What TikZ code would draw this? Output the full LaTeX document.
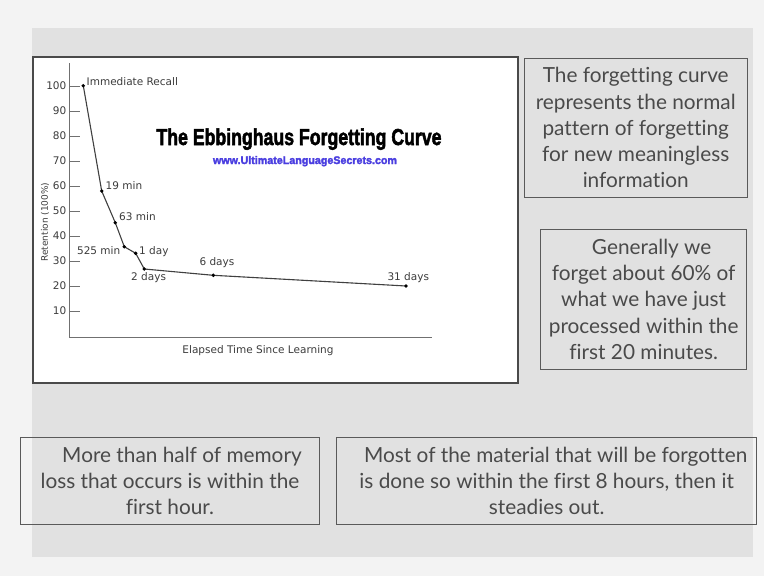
\documentclass[tikz,border=0pt]{standalone}
\usepackage{fontspec}
\setmainfont{Lato}
\newfontfamily\chartfont{DejaVu Sans}
\newfontfamily\titlefont{Liberation Sans}[BoldFeatures={FakeBold=2.5}]
\newfontfamily\gillfont{Lato}[Ligatures=NoCommon]
\definecolor{outerbg}{HTML}{F3F3F3}
\definecolor{panelbg}{HTML}{E1E1E1}
\definecolor{boxline}{HTML}{5A5A5A}
\definecolor{boxtext}{HTML}{4A4A4A}
\definecolor{chartframe}{HTML}{4A4A4A}
\definecolor{axisgray}{HTML}{707070}
\definecolor{charttext}{HTML}{3C3C3C}
\definecolor{urlblue}{HTML}{4A3EE0}
\begin{document}
\begin{tikzpicture}[x=1pt,y=-1pt,
  tbox/.style={draw=boxline, line width=0.9pt, align=center, inner sep=0pt,
    text=boxtext, font=\gillfont\fontsize{20.8}{26.3}\selectfont},
  clabel/.style={inner sep=0pt, text=charttext, font=\chartfont\fontsize{10.5}{12}\selectfont},
  ticklab/.style={inner sep=0pt, anchor=east, text=charttext, font=\chartfont\fontsize{10.5}{12}\selectfont},
  dotmark/.style={fill=black},
]
\useasboundingbox (0,0) rectangle (764,576);
\fill[outerbg] (0,0) rectangle (764,576);
\fill[panelbg] (32,28) rectangle (753,557);

% chart image
\draw[chartframe, line width=2.6pt, fill=white] (33,57) rectangle (518,383);

% axes
\coordinate (ytop) at (69.5,63);
\coordinate (orig) at (69.5,337);
\coordinate (xend) at (432,337);
\draw[axisgray, line width=0.9pt] (ytop) -- (orig) -- (xend);
\foreach \v in {10,20,...,100} {
  \draw[axisgray, line width=0.9pt] (69.5,{336-2.5*\v}) -- (80,{336-2.5*\v});
  \node[ticklab] at (66.5,{336-2.5*\v}) {\v};
}

% title
\node[inner sep=0pt, anchor=base] (title) at (299,145) {\resizebox{285pt}{16.7pt}{\titlefont\bfseries The Ebbinghaus Forgetting Curve}};
\node[inner sep=0pt, anchor=base, text=urlblue] (url) at (305,164) {\resizebox{184pt}{8pt}{\titlefont\bfseries www.UltimateLanguageSecrets.com}};

% data
\coordinate (p1) at (83.3,85.7);
\coordinate (p2) at (101.7,191);
\coordinate (p3) at (115.3,222.7);
\coordinate (p4) at (124.3,246.7);
\coordinate (p5) at (135.7,253.3);
\coordinate (p6) at (144.3,269);
\coordinate (p7) at (213.3,275.3);
\coordinate (p8) at (406,286);
\draw[black!75, line width=1.1pt] (p1) -- (p2) -- (p3) -- (p4) -- (p5) -- (p6) -- (p7) -- (p8);
\foreach \p in {p1,p2,p3,p4,p5,p6,p7,p8} \fill[dotmark] (\p) circle (1.9pt);

\node[clabel, anchor=base west] (l1) at (86.5,85.7) {Immediate Recall};
\node[clabel, anchor=base west] (l2) at (105.5,189) {19 min};
\node[clabel, anchor=base west] (l3) at (119,220) {63 min};
\node[clabel, anchor=base east] (l4) at (120.5,254) {525 min};
\node[clabel, anchor=base west] (l5) at (139,254) {1 day};
\node[clabel, anchor=base west] (l6) at (131,280) {2 days};
\node[clabel, anchor=base west] (l7) at (199.3,265.7) {6 days};
\node[clabel, anchor=base west] (l8) at (387.3,280) {31 days};
\node[clabel, anchor=base] (xlab) at (258,353.3) {Elapsed Time Since Learning};
\node[clabel, rotate=90, font=\chartfont\fontsize{9}{11}\selectfont] (ylab) at (45,222) {Retention (100\%)};

% text boxes
\node[tbox, minimum width=223.3pt, minimum height=139pt] (b1) at (635.7,127.8)
  {The forgetting curve\\represents the normal\\pattern of forgetting\\for new meaningless\\information};
\node[tbox, minimum width=206pt, minimum height=139.7pt] (b2) at (643.7,299.2)
  {\hspace*{16pt}Generally we\\forget about 60\% of\\what we have just\\processed within the\\first 20 minutes.};
\node[tbox, minimum width=298.3pt, minimum height=86.6pt] (b3) at (170,481)
  {\hspace*{24pt}More than half of memory\\loss that occurs is within the\\first hour.};
\node[tbox, minimum width=420pt, minimum height=86.6pt] (b4) at (546.7,481)
  {\hspace*{18pt}Most of the material that will be forgotten\\is done so within the first 8 hours, then it\\steadies out.};
\end{tikzpicture}
\end{document}
